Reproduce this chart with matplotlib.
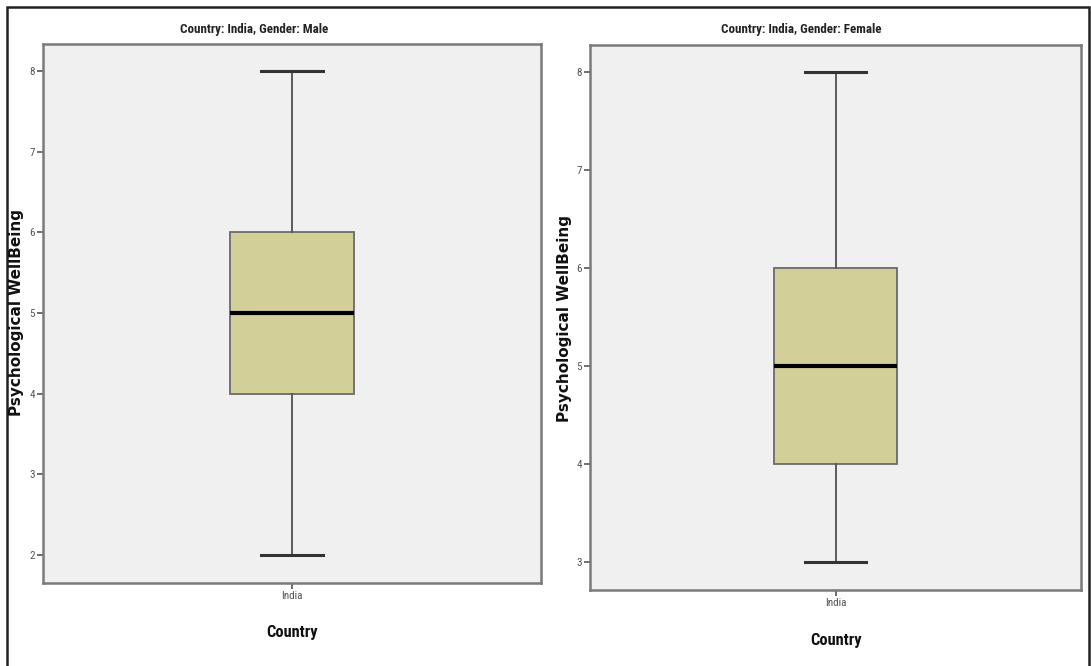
import matplotlib
matplotlib.use("Agg")
import matplotlib.pyplot as plt
from matplotlib import font_manager
from matplotlib.patches import Rectangle

# Summary statistics of Psychological WellBeing by gender (India)
country_labels = ["India"]
panel_titles = ["Country: India, Gender: Male", "Country: India, Gender: Female"]
whisker_low = [2, 3]
quartile_1 = [4, 4]
medians = [5, 5]
quartile_3 = [6, 6]
whisker_high = [8, 8]
y_ticks = [[2, 3, 4, 5, 6, 7, 8], [3, 4, 5, 6, 7, 8]]


def narrow_font():
    """Return (family, stretch, size factor) for a condensed sans face."""
    fonts = font_manager.fontManager.ttflist
    names = {f.name for f in fonts}
    for fam in ["Liberation Sans Narrow", "Roboto Condensed", "Open Sans Condensed",
                "DejaVu Sans Condensed", "Arial Narrow"]:
        if fam in names:
            return fam, "normal", 1.0
    for f in fonts:
        if f.stretch in ("condensed", "semi-condensed", "extra-condensed") and \
                f.name in ("Noto Sans", "Open Sans", "Roboto", "Inter", "Lato"):
            return f.name, f.stretch, 1.0
    return "Liberation Sans", "normal", 0.8


NARROW, STRETCH, SCALE = narrow_font()

W, H = 1091, 666
fig = plt.figure(figsize=(W / 100, H / 100), dpi=100)
fig.patch.set_facecolor("white")


def px_rect(l, t, r, b):
    return [l / W, 1 - b / H, (r - l) / W, (b - t) / H]


axes_px = [(43, 44, 541, 583), (590, 45, 1081, 590)]
ylims = [(1.65, 8.335), (2.714, 8.276)]
title_xy = [(254, 30), (801, 30)]
ylabel_xy = [(17, 313), (564, 318)]
xlabel_xy = [(292, 633), (836, 640)]

box_fill = "#d3cf99"
for i in range(2):
    ax = fig.add_axes(px_rect(*axes_px[i]))
    ax.set_facecolor("#f0f0f0")
    stats = [{
        "whislo": whisker_low[i], "q1": quartile_1[i], "med": medians[i],
        "q3": quartile_3[i], "whishi": whisker_high[i], "fliers": [],
        "label": country_labels[0],
    }]
    ax.bxp(stats, positions=[0], widths=1.0, showfliers=False, patch_artist=True,
           boxprops=dict(facecolor=box_fill, edgecolor="#6a6a6a", linewidth=1.3),
           medianprops=dict(color="black", linewidth=3),
           whiskerprops=dict(color="#5a5a5a", linewidth=1.4),
           capprops=dict(color="#333333", linewidth=2.2),
           capwidths=0.5)
    ax.set_xlim(-2, 2)
    ax.set_ylim(*ylims[i])
    ax.set_yticks(y_ticks[i])
    ax.set_yticklabels([str(v) for v in y_ticks[i]], fontfamily=NARROW,
                       fontstretch=STRETCH, fontsize=8 * SCALE, color="#555555")
    ax.set_xticks([0])
    ax.set_xticklabels(country_labels, fontfamily=NARROW, fontstretch=STRETCH,
                       fontsize=8 * SCALE, color="#555555")
    ax.tick_params(axis="both", length=4, width=1.2, color="#555555", pad=2)
    for s in ax.spines.values():
        s.set_color("#7a7a7a")
        s.set_linewidth(1.8)

    fig.text(title_xy[i][0] / W, 1 - title_xy[i][1] / H, panel_titles[i],
             ha="center", va="center", fontsize=9.4 * SCALE, fontweight="bold",
             fontfamily=NARROW, fontstretch=STRETCH, color="#222222")
    fig.text(ylabel_xy[i][0] / W, 1 - ylabel_xy[i][1] / H,
             "Psychological WellBeing", rotation=90, ha="center", va="center",
             fontsize=11, fontweight="bold", fontfamily="DejaVu Sans",
             color="#111111")
    fig.text(xlabel_xy[i][0] / W, 1 - xlabel_xy[i][1] / H, "Country",
             ha="center", va="center", fontsize=11.8 * SCALE, fontweight="bold",
             fontfamily=NARROW, fontstretch=STRETCH, color="#111111")

# Outer frame around the figure
fig.add_artist(Rectangle((7 / W, -0.05), (1089 - 7) / W, 1.05 - 7 / H,
                         transform=fig.transFigure, fill=False,
                         edgecolor="#222222", linewidth=1.8))

fig.savefig("out.png", dpi=100)
